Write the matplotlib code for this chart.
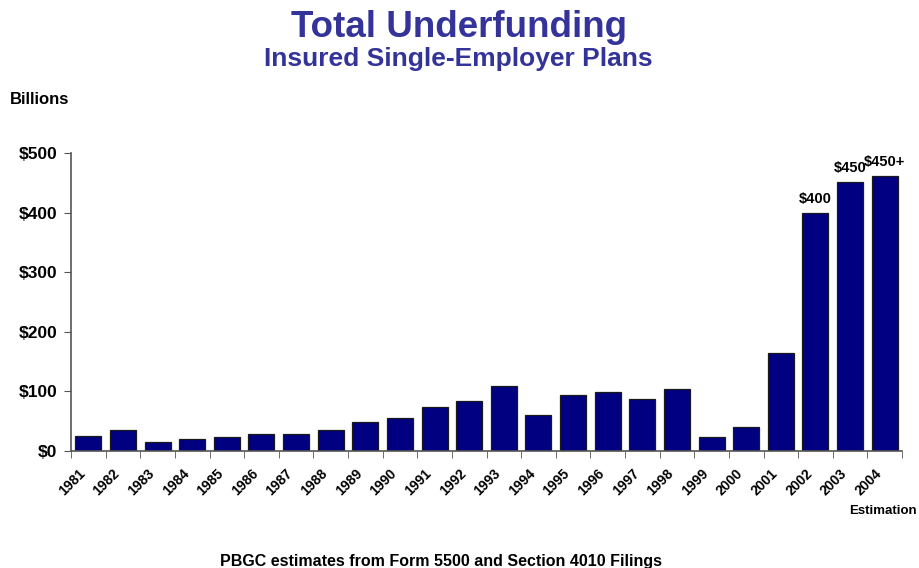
import matplotlib.pyplot as plt
import numpy as np

years = [str(y) for y in range(1981, 2005)]
underfunding = [25, 36, 15, 20, 23, 28, 28, 35, 49, 55, 74, 84,
                109, 61, 94, 99, 88, 104, 23, 40, 164, 400, 451, 462]
bar_labels = {21: '$400', 22: '$450', 23: '$450+'}
yticks = [0, 100, 200, 300, 400, 500]

plt.rcParams['font.family'] = ['Liberation Sans', 'DejaVu Sans']

fig = plt.figure(figsize=(9.19, 5.68), dpi=100)
ax = fig.add_axes([0.0773, 0.206, 0.9042, 0.5246])

x = np.arange(len(years))
ax.bar(x, underfunding, width=0.75, color='#000080', edgecolor='#1a1a1a', linewidth=0.9)

for i, txt in bar_labels.items():
    ax.annotate(txt, (x[i], underfunding[i]), xytext=(0, 5), textcoords='offset points',
                ha='center', va='bottom', fontsize=10.5, fontweight='bold')

ax.set_xlim(-0.5, len(years) - 0.5)
ax.set_ylim(0, 500)
ax.set_yticks(yticks)
ax.set_yticklabels(['$%d' % v for v in yticks], fontsize=12.5, fontweight='bold')

# labels sit left of bar centres, like the original slide
ax.set_xticks(x - 0.3)
ax.set_xticklabels(years, rotation=45, ha='right', rotation_mode='anchor',
                   fontsize=10, fontweight='bold')
ax.tick_params(axis='x', which='major', length=0, pad=11)
ax.set_xticks(np.arange(-0.5, len(years), 1), minor=True)
ax.tick_params(axis='x', which='minor', length=5, color='#555555', direction='out')
ax.tick_params(axis='y', length=5, color='#555555', direction='out', pad=5)

for s in ['top', 'right']:
    ax.spines[s].set_visible(False)
for s in ['left', 'bottom']:
    ax.spines[s].set_color('#555555')
    ax.spines[s].set_linewidth(1.2)

fig.text(0.499, 0.952, 'Total Underfunding', ha='center', va='center',
         fontsize=26.5, fontweight='bold', color='#333399')
fig.text(0.499, 0.896, 'Insured Single-Employer Plans', ha='center', va='center',
         fontsize=19, fontweight='bold', color='#333399')
fig.text(0.011, 0.825, 'Billions', ha='left', va='center', fontsize=12, fontweight='bold')
fig.text(0.998, 0.100, 'Estimation', ha='right', va='center', fontsize=9.5, fontweight='bold')
fig.text(0.480, 0.012, 'PBGC estimates from Form 5500 and Section 4010 Filings',
         ha='center', va='center', fontsize=11.5, fontweight='bold')

fig.savefig('out.png', dpi=100)
